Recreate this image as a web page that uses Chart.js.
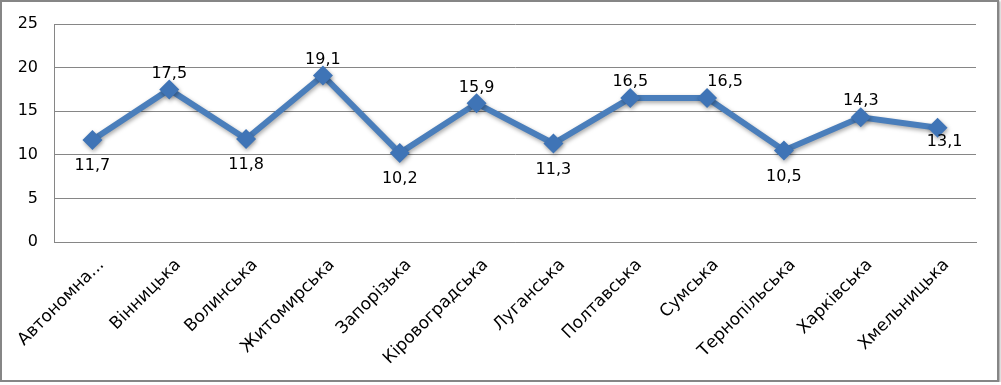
<!DOCTYPE html>
<html>
<head>
<meta charset="utf-8">
<script src="https://cdn.jsdelivr.net/npm/chart.js@4"></script>
<style>
  html, body { margin: 0; padding: 0; background: #fff; }
  #box {
    width: 995px; height: 378px;
    border: 2px solid #868686;
    box-shadow: 1px 1px 2px rgba(0,0,0,0.4);
    background: #fff;
  }
</style>
</head>
<body>
<div id="box"><canvas id="chart" width="995" height="378"></canvas></div>
<script>
// regions and values
const regions = ['Автономна...', 'Вінницька', 'Волинська', 'Житомирська', 'Запорізька',
  'Кіровоградська', 'Луганська', 'Полтавська', 'Сумська', 'Тернопільська', 'Харківська', 'Хмельницька'];
const values = [11.7, 17.5, 11.8, 19.1, 10.2, 15.9, 11.3, 16.5, 16.5, 10.5, 14.3, 13.1];
const yTicks = [0, 5, 10, 15, 20, 25];

const FONT = 'DejaVu Sans';
const BLUE = '#4a7ebb';

// soft shadow under line and markers
const shadowPlugin = {
    id: 'shadow',
    beforeDatasetsDraw(chart) {
        const ctx = chart.ctx;
        ctx.save();
        ctx.shadowColor = 'rgba(0,0,0,0.35)';
        ctx.shadowBlur = 4;
        ctx.shadowOffsetX = 1;
        ctx.shadowOffsetY = 2;
    },
    afterDatasetsDraw(chart) {
        chart.ctx.restore();
    }
};

// value labels: above local highs, below local lows
const labelPlugin = {
    id: 'valueLabels',
    afterDatasetsDraw(chart) {
        const ctx = chart.ctx;
        const meta = chart.getDatasetMeta(0);
        ctx.save();
        ctx.font = '16px "' + FONT + '"';
        ctx.fillStyle = '#000';
        ctx.textAlign = 'center';
        ctx.textBaseline = 'middle';
        meta.data.forEach((pt, i) => {
            const v = values[i];
            const nb = [];
            if (i > 0) nb.push(values[i - 1]);
            if (i < values.length - 1) nb.push(values[i + 1]);
            const avg = nb.reduce((a, b) => a + b, 0) / nb.length;
            const above = v > avg;
            let dx = 0;
            if (i > 0 && values[i - 1] === v) dx = 18;
            if (i === values.length - 1) dx = 7;
            const dy = above ? -16 : (i === values.length - 1 ? 14 : 26);
            ctx.fillText(v.toFixed(1).replace('.', ','), pt.x + dx, pt.y + dy);
        });
        ctx.restore();
    }
};

new Chart(document.getElementById('chart'), {
    type: 'line',
    data: {
        labels: regions,
        datasets: [{
            data: values,
            borderColor: BLUE,
            borderWidth: 6,
            backgroundColor: '#3f74b6',
            pointStyle: 'rectRot',
            pointRadius: 10,
            pointBorderWidth: 0,
            pointBackgroundColor: '#3f74b6',
            tension: 0
        }]
    },
    options: {
        responsive: false,
        animation: false,
        layout: { padding: { top: 22, right: 21, left: 0, bottom: 0 } },
        plugins: { legend: { display: false }, tooltip: { enabled: false } },
        scales: {
            x: {
                offset: true,
                grid: { display: false, drawTicks: false },
                border: { display: true, color: '#868686', width: 1 },
                ticks: {
                    autoSkip: false,
                    maxRotation: 45,
                    minRotation: 45,
                    padding: 13,
                    labelOffset: 9,
                    color: '#000',
                    font: { family: FONT, size: 17 }
                },
                afterFit(scale) {
                    scale.height = 138;
                    scale.paddingTop = 0;
                    scale.paddingBottom = 0;
                    scale.paddingLeft = 0;
                    scale.paddingRight = 0;
                }
            },
            y: {
                min: 0,
                max: 25,
                afterBuildTicks(scale) { scale.ticks = yTicks.map(v => ({ value: v })); },
                grid: { color: '#868686', drawTicks: false },
                border: { display: true, color: '#868686', width: 1 },
                ticks: {
                    padding: 16,
                    color: '#000',
                    font: { family: FONT, size: 16 }
                },
                afterFit(scale) {
                    scale.width = 52;
                    scale.paddingTop = 0;
                    scale.paddingBottom = 0;
                }
            }
        }
    },
    plugins: [shadowPlugin, labelPlugin]
});
</script>
</body>
</html>
